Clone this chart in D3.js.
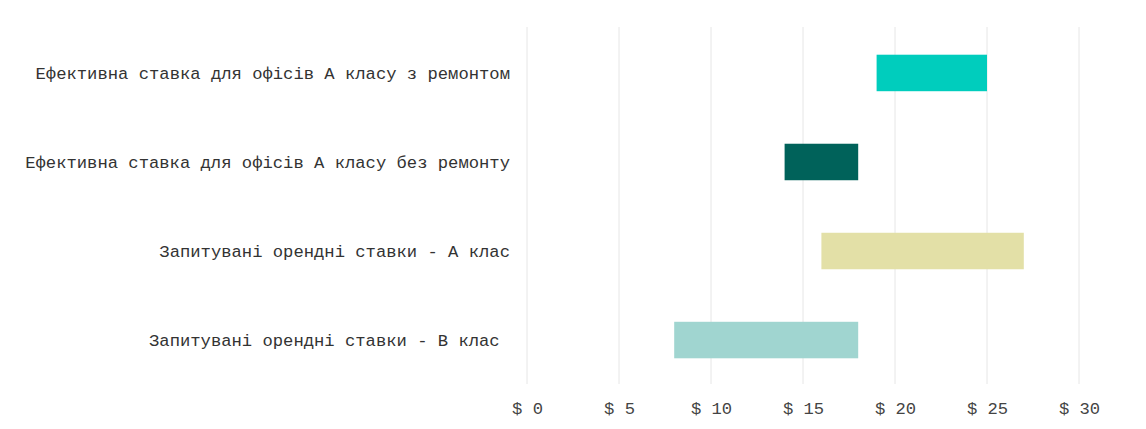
<!DOCTYPE html>
<html>
<head>
<meta charset="utf-8">
<script src="https://cdn.jsdelivr.net/npm/d3@7"></script>
<style>
  body { margin: 0; background: #fff; }
  svg text { font-family: "Liberation Mono", "DejaVu Sans Mono", monospace; }
</style>
</head>
<body>
<svg id="chart" width="1146" height="429"></svg>
<script>
// categories, top to bottom
const categories = [
    "Ефективна ставка для офісів А класу з ремонтом",
    "Ефективна ставка для офісів А класу без ремонту",
    "Запитувані орендні ставки - А клас",
    "Запитувані орендні ставки - В клас "
];
// range start / end, $ per sq m
const lowValues = [19, 14, 16, 8];
const highValues = [25, 18, 27, 18];
const barColors = ["#00cdbd", "#00625a", "#e3e0a7", "#a0d5d0"];
const tickValues = [0, 5, 10, 15, 20, 25, 30];

const svg = d3.select("#chart");

const x = d3.scaleLinear()
    .domain([0, 30])
    .range([527, 1079]);

const y = d3.scaleBand()
    .domain(categories)
    .range([28, 385])
    .paddingInner(0.59)
    .paddingOuter(0.3);

// vertical gridlines
svg.append("g")
    .selectAll("line")
    .data(tickValues)
    .join("line")
    .attr("x1", d => x(d))
    .attr("x2", d => x(d))
    .attr("y1", 27)
    .attr("y2", 384)
    .attr("stroke", "#e6e6e6")
    .attr("stroke-width", 1);

// x axis labels
const xAxis = svg.append("g")
    .attr("transform", "translate(0,384)")
    .call(d3.axisBottom(x)
        .tickValues(tickValues)
        .tickFormat(d => "$ " + d)
        .tickSize(0)
        .tickPadding(18));
xAxis.select(".domain").remove();
xAxis.selectAll("text")
    .style("font-family", "'Liberation Mono', 'DejaVu Sans Mono', monospace")
    .style("font-size", "17.2px")
    .attr("fill", "#444");

// bars
svg.append("g")
    .selectAll("rect")
    .data(categories)
    .join("rect")
    .attr("x", (d, i) => x(lowValues[i]))
    .attr("width", (d, i) => x(highValues[i]) - x(lowValues[i]))
    .attr("y", d => y(d))
    .attr("height", y.bandwidth())
    .attr("fill", (d, i) => barColors[i]);

// category labels
svg.append("g")
    .selectAll("text")
    .data(categories)
    .join("text")
    .text(d => d)
    .attr("x", 510)
    .attr("y", d => y(d) + y.bandwidth() / 2)
    .attr("dy", "0.35em")
    .attr("text-anchor", "end")
    .style("white-space", "pre")
    .style("font-size", "17.2px")
    .attr("fill", "#333");
</script>
</body>
</html>
